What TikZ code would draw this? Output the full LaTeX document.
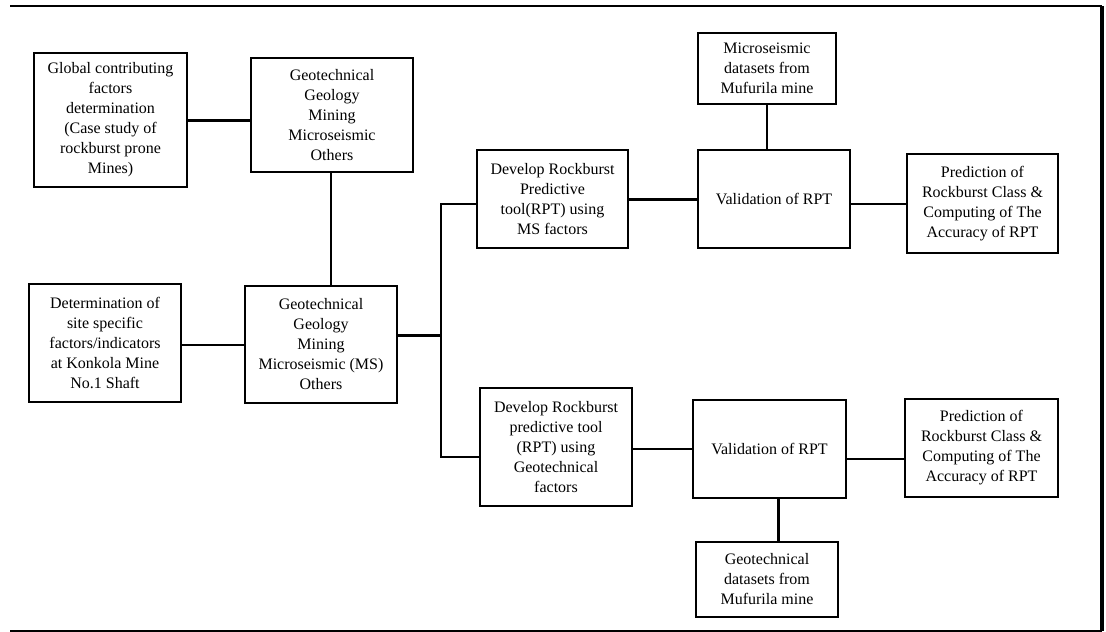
\documentclass[tikz,border=0pt]{standalone}
\usepackage{fontspec}
\setmainfont{Liberation Serif}
\begin{document}
\begin{tikzpicture}[x=1pt,y=-1pt,
  box/.style={draw, line width=2.8pt, align=center, inner sep=1pt,
    font=\fontsize{16}{20}\selectfont},
  conn/.style={line width=2pt},
  thick conn/.style={line width=3pt},
  frameline/.style={line width=2pt}]
\useasboundingbox (0,0) rectangle (1106,632);
% frame
\coordinate (ftl) at (10,6);
\coordinate (ftr) at (1102,6);
\coordinate (fbr) at (1102,631);
\coordinate (fbl) at (10,631);
\draw[frameline] (ftl) -- (ftr);
\draw[line width=3.5pt] (ftr) -- (fbr);
\draw[frameline] (fbl) -- (fbr);
% boxes
\node[box, minimum width=153, minimum height=134] (glob) at (110.5,120)
  {Global contributing\\factors\\determination\\(Case study of\\rockburst prone\\Mines)};
\node[box, minimum width=162, minimum height=114] (geotop) at (332,115)
  {Geotechnical\\Geology\\Mining\\Microseismic\\Others};
\node[box, minimum width=152, minimum height=118] (det) at (105,343)
  {Determination of\\site specific\\factors/indicators\\at Konkola Mine\\No.1 Shaft};
\node[box, minimum width=152, minimum height=117] (geomid) at (321,344.5)
  {Geotechnical\\Geology\\Mining\\Microseismic (MS)\\Others};
\node[box, minimum width=151, minimum height=98] (devms) at (552.5,199)
  {Develop Rockburst\\Predictive\\tool(RPT) using\\MS factors};
\node[box, minimum width=138, minimum height=71] (msdata) at (767,68.5)
  {Microseismic\\datasets from\\Mufurila mine};
\node[box, minimum width=152, minimum height=98] (val1) at (774,199)
  {Validation of RPT};
\node[box, minimum width=151, minimum height=99] (pred1) at (982.5,203.5)
  {Prediction of\\Rockburst Class \&\\Computing of The\\Accuracy of RPT};
\node[box, minimum width=152, minimum height=118] (devgeo) at (556,447)
  {Develop Rockburst\\predictive tool\\(RPT) using\\Geotechnical\\factors};
\node[box, minimum width=153, minimum height=98] (val2) at (769.5,449)
  {Validation of RPT};
\node[box, minimum width=142, minimum height=75] (geodata) at (767,579.5)
  {Geotechnical\\datasets from\\Mufurila mine};
\node[box, minimum width=153, minimum height=98] (pred2) at (981.5,448)
  {Prediction of\\Rockburst Class \&\\Computing of The\\Accuracy of RPT};
% junctions
\coordinate (j) at (441,335);
\coordinate (jt) at (441,204);
\coordinate (jb) at (441,457);
\coordinate (v2d) at (778,0);
\coordinate (v2p) at (0,459);
% connectors
\draw[thick conn] (glob.east) -- (glob.east -| geotop.west);
\draw[conn] (geotop.south -| 331,0) -- (geomid.north -| 331,0);
\draw[conn] (geomid.west) -- (geomid.west -| det.east);
\draw[thick conn] (geomid.east |- j) -- (j);
\draw[conn] (devms.west |- jt) -- (jt) -- (jb) -- (devgeo.west |- jb);
\draw[thick conn] (devms.east) -- (val1.west);
\draw[conn] (msdata.south) -- (msdata.south |- val1.north);
\draw[conn] (pred1.west) -- (pred1.west -| val1.east);
\draw[conn] (val2.west) -- (val2.west -| devgeo.east);
\draw[thick conn] (val2.south -| v2d) -- (geodata.north -| v2d);
\draw[conn] (val2.east |- v2p) -- (pred2.west |- v2p);
\end{tikzpicture}
\end{document}
